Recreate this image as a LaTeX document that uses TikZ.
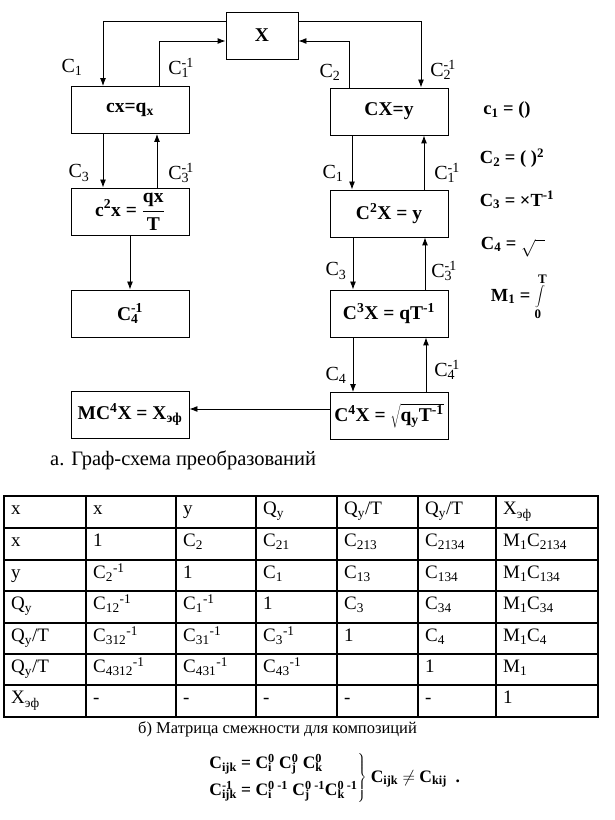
\documentclass[tikz,border=0pt]{standalone}
\usepackage{fontspec}
\setmainfont{Liberation Serif}
\usetikzlibrary{arrows.meta,calc}
\newcommand\Stk[2]{\setbox0=\hbox{\textsubscript{#1}}\setbox2=\hbox{\textsuperscript{#2}}\ifdim\wd0>\wd2 \rlap{\box2}\box0 \else\rlap{\box0}\box2 \fi}
\newcommand\boxfont{\fontsize{19.5}{22}\selectfont\bfseries}
\newcommand\lblfont{\fontsize{20}{23}\selectfont}
\newcommand\tabfont{\fontsize{19}{22}\selectfont}
\newcommand\deffont{\fontsize{18.5}{21}\selectfont\bfseries}
\begin{document}
\begin{tikzpicture}[x=1pt,y=1pt,
  blk/.style={draw,line width=0.9pt,minimum width=118pt,minimum height=47pt,inner sep=0pt,font=\boxfont},
  arr/.style={draw,line width=0.9pt,-{Latex[length=8pt,width=6pt]}},
  lbl/.style={inner sep=0pt,font=\lblfont},
  dfn/.style={inner sep=0pt,font=\deffont},
  cell/.style={anchor=base west,inner sep=0pt,font=\tabfont},
  tabin/.style={line width=1.2pt},
  tabout/.style={line width=1.8pt}]
\fill[white] (0,0) rectangle (614,820);
\useasboundingbox (0,0) rectangle (614,820);
% boxes
\node[blk,minimum width=72pt] (X) at (262,784.5) {X};
\node[blk] (cx) at (130,710) {cx=q\textsubscript{x}};
\node[blk] (c2x) at (130,608.5) {c\textsuperscript{2}x = $\displaystyle\frac{\mbox{qx}}{\mbox{T}}$};
\node[blk] (C4inv) at (130,506.5) {C\Stk{4}{-1}};
\node[blk] (MC4X) at (130,405.5) {MC\textsuperscript{4}X = X\textsubscript{эф}};
\node[blk] (CX) at (389,708.5) {CX=y};
\node[blk] (C2X) at (389,606.5) {C\textsuperscript{2}X = y};
\node[blk] (C3X) at (389,506.5) {C\textsuperscript{3}X = qT\textsuperscript{-1}};
\node[blk] (C4X) at (389,404) {C\textsuperscript{4}X = $\sqrt{\mbox{q\textsubscript{y}T\textsuperscript{-1}}}$};
% connectors
\draw[arr] ($(X.west)+(0,14.5)$) -| ($(cx.north)+(-27,0)$);
\draw[arr] ($(cx.north)+(29,0)$) |- ($(X.west)+(0,-5.5)$);
\draw[arr] ($(X.east)+(0,14.5)$) -| ($(CX.north)+(32,0)$);
\draw[arr] ($(CX.north)+(-40,0)$) |- ($(X.east)+(0,-5.5)$);
\draw[arr] ($(cx.south)+(-27,0)$) -- ($(c2x.north)+(-27,0)$);
\draw[arr] ($(c2x.north)+(27,0)$) -- ($(cx.south)+(27,0)$);
\draw[arr] (c2x.south) -- (C4inv.north);
\draw[arr] ($(CX.south)+(-37,0)$) -- ($(C2X.north)+(-37,0)$);
\draw[arr] ($(C2X.north)+(35,0)$) -- ($(CX.south)+(35,0)$);
\draw[arr] ($(C2X.south)+(-36,0)$) -- ($(C3X.north)+(-36,0)$);
\draw[arr] ($(C3X.north)+(36,0)$) -- ($(C2X.south)+(36,0)$);
\draw[arr] ($(C3X.south)+(-36,0)$) -- ($(C4X.north)+(-36,0)$);
\draw[arr] ($(C4X.north)+(37,0)$) -- ($(C3X.south)+(37,0)$);
\coordinate (h) at ($(C4X.west)+(0,7)$);
\draw[arr] (h) -- (h -| MC4X.east);
% arrow labels
\node[lbl] (l1) at (72,753) {C\textsubscript{1}};
\node[lbl] (l2) at (181,752) {C\Stk{1}{-1}};
\node[lbl] (l3) at (79,647) {C\textsubscript{3}};
\node[lbl] (l4) at (181,647) {C\Stk{3}{-1}};
\node[lbl] (r1) at (330,748) {C\textsubscript{2}};
\node[lbl] (r2) at (443,750) {C\Stk{2}{-1}};
\node[lbl] (r3) at (333,647) {C\textsubscript{1}};
\node[lbl] (r4) at (447,647) {C\Stk{1}{-1}};
\node[lbl] (r5) at (336,549) {C\textsubscript{3}};
\node[lbl] (r6) at (444,549) {C\Stk{3}{-1}};
\node[lbl] (r7) at (336,445) {C\textsubscript{4}};
\node[lbl] (r8) at (447,450) {C\Stk{4}{-1}};
% definitions
\node[dfn] (d1) at (507,710) {c\textsubscript{1} = ()};
\node[dfn] (d2) at (512,662) {C\textsubscript{2} = ( )\textsuperscript{2}};
\node[dfn] (d3) at (517,620) {C\textsubscript{3} = ×T\textsuperscript{-1}};
\node[dfn] (d4) at (513,573) {C\textsubscript{4} = $\sqrt{\hphantom{x}}$};
\node[dfn] (d5) at (518,523) {M\textsubscript{1} = $\displaystyle\int\limits_{\mbox{\fontsize{13}{13}\selectfont\bfseries 0}}^{\mbox{\fontsize{13}{13}\selectfont\bfseries T}}$};
% caption a
\node[anchor=west,inner sep=0pt,font=\fontsize{20.5}{24}\selectfont] (capa) at (50,360) {а. Граф-схема преобразований};
% table
\draw[tabout] (4,103) rectangle (598,324);
\foreach \yy in {292,260,229,197,166,135} \draw[tabin] (4,\yy) -- (598,\yy);
\foreach \xx in {86,176,256,337,418,496} \draw[tabin] (\xx,103) -- (\xx,324);
% row 0
\node[cell] (t00) at (11,305) {x};
\node[cell] (t01) at (93,305) {x};
\node[cell] (t02) at (183,305) {y};
\node[cell] (t03) at (263,305) {Q\textsubscript{y}};
\node[cell] (t04) at (344,305) {Q\textsubscript{y}/T};
\node[cell] (t05) at (425,305) {Q\textsubscript{y}/T};
\node[cell] (t06) at (503,305) {X\textsubscript{эф}};
% row 1
\node[cell] (t10) at (11,273) {x};
\node[cell] (t11) at (93,273) {1};
\node[cell] (t12) at (183,273) {C\textsubscript{2}};
\node[cell] (t13) at (263,273) {C\textsubscript{21}};
\node[cell] (t14) at (344,273) {C\textsubscript{213}};
\node[cell] (t15) at (425,273) {C\textsubscript{2134}};
\node[cell] (t16) at (503,273) {M\textsubscript{1}C\textsubscript{2134}};
% row 2
\node[cell] (t20) at (11,241) {y};
\node[cell] (t21) at (93,241) {C\textsubscript{2}\textsuperscript{-1}};
\node[cell] (t22) at (183,241) {1};
\node[cell] (t23) at (263,241) {C\textsubscript{1}};
\node[cell] (t24) at (344,241) {C\textsubscript{13}};
\node[cell] (t25) at (425,241) {C\textsubscript{134}};
\node[cell] (t26) at (503,241) {M\textsubscript{1}C\textsubscript{134}};
% row 3
\node[cell] (t30) at (11,210) {Q\textsubscript{y}};
\node[cell] (t31) at (93,210) {C\textsubscript{12}\textsuperscript{-1}};
\node[cell] (t32) at (183,210) {C\textsubscript{1}\textsuperscript{-1}};
\node[cell] (t33) at (263,210) {1};
\node[cell] (t34) at (344,210) {C\textsubscript{3}};
\node[cell] (t35) at (425,210) {C\textsubscript{34}};
\node[cell] (t36) at (503,210) {M\textsubscript{1}C\textsubscript{34}};
% row 4
\node[cell] (t40) at (11,178) {Q\textsubscript{y}/T};
\node[cell] (t41) at (93,178) {C\textsubscript{312}\textsuperscript{-1}};
\node[cell] (t42) at (183,178) {C\textsubscript{31}\textsuperscript{-1}};
\node[cell] (t43) at (263,178) {C\textsubscript{3}\textsuperscript{-1}};
\node[cell] (t44) at (344,178) {1};
\node[cell] (t45) at (425,178) {C\textsubscript{4}};
\node[cell] (t46) at (503,178) {M\textsubscript{1}C\textsubscript{4}};
% row 5
\node[cell] (t50) at (11,147) {Q\textsubscript{y}/T};
\node[cell] (t51) at (93,147) {C\textsubscript{4312}\textsuperscript{-1}};
\node[cell] (t52) at (183,147) {C\textsubscript{431}\textsuperscript{-1}};
\node[cell] (t53) at (263,147) {C\textsubscript{43}\textsuperscript{-1}};
\node[cell] (t55) at (425,147) {1};
\node[cell] (t56) at (503,147) {M\textsubscript{1}};
% row 6
\node[cell] (t60) at (11,116) {X\textsubscript{эф}};
\node[cell] (t61) at (93,116) {-};
\node[cell] (t62) at (183,116) {-};
\node[cell] (t63) at (263,116) {-};
\node[cell] (t64) at (344,116) {-};
\node[cell] (t65) at (425,116) {-};
\node[cell] (t66) at (503,116) {1};
% caption b
\node[anchor=west,inner sep=0pt,font=\fontsize{16.5}{20}\selectfont] (capb) at (138,91) {б) Матрица смежности для композиций};
% formula
\node[anchor=west,inner sep=0pt,font=\fontsize{17.5}{20}\selectfont\bfseries] (form) at (208,42)
 {$\left.\begin{array}{@{}l@{}}\mbox{C\textsubscript{ijk} = C\Stk{i}{0} C\Stk{j}{0} C\Stk{k}{0}}\\[6pt]
 \mbox{C\Stk{ijk}{-1} = C\Stk{i}{0 -1} C\Stk{j}{0 -1}C\Stk{k}{0 -1}}\end{array}\right\}$
 C\textsubscript{ijk} $\neq$ C\textsubscript{kij}\enspace.};
\end{tikzpicture}
\end{document}
